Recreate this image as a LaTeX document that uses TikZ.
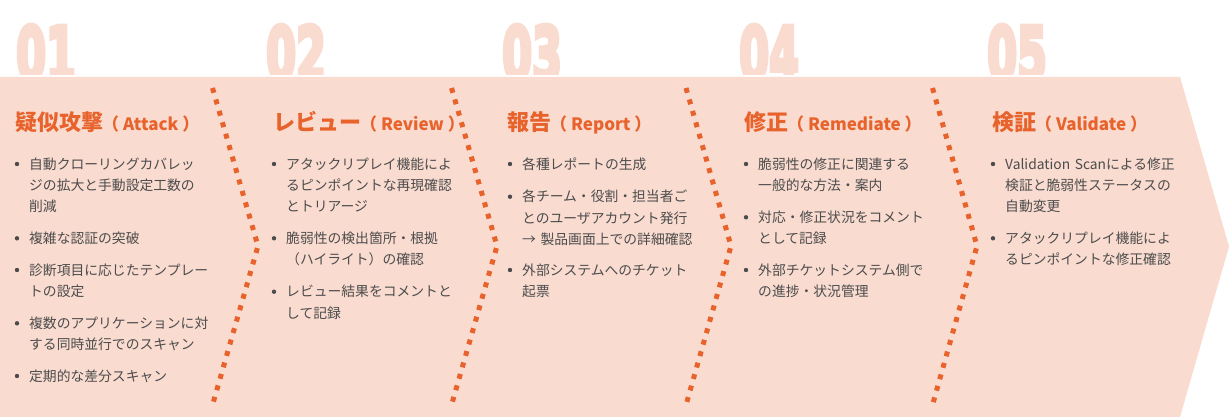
\documentclass[tikz,border=0pt]{standalone}
\usepackage{fontspec}
\usepackage{graphicx}
\newfontfamily\jp{Noto Sans CJK JP}
\newfontfamily\numf{DejaVu Sans}[FakeBold=7]
\definecolor{peach}{HTML}{F9DBD0}
\definecolor{orng}{HTML}{E8622C}
\definecolor{txtgray}{HTML}{4C4C4C}
\begin{document}
\begin{tikzpicture}[x=1pt,y=-1pt,
  numlbl/.style={anchor=north west, inner sep=0pt, text=peach, font=\numf\bfseries\fontsize{74}{74}\selectfont},
  ttl/.style={anchor=base west, inner sep=0pt, text=orng, font=\jp\bfseries},
  item/.style={anchor=base west, inner sep=0pt, text width=230pt, align=left, text=txtgray, font=\jp\fontsize{13.8}{21.3}\selectfont},
  bul/.style={fill=txtgray},
  dotline/.style={draw=orng, line width=5pt, dash pattern=on 5pt off 6.9pt}]
\useasboundingbox (0,0) rectangle (1229,417);
% big numbers
\begin{scope}
\clip (0,0) rectangle (1229,74.8);
\node[numlbl] (n1) at (16,25) {\scalebox{0.58}[1]{01}};
\node[numlbl] (n2) at (266,25) {\scalebox{0.58}[1]{02}};
\node[numlbl] (n3) at (502,25) {\scalebox{0.58}[1]{03}};
\node[numlbl] (n4) at (739,25) {\scalebox{0.58}[1]{04}};
\node[numlbl] (n5) at (987,25) {\scalebox{0.58}[1]{05}};
\end{scope}
% band
\fill[peach] (0,76.8) -- (1180,76.8) -- (1229,246.5) -- (1180,417) -- (0,417) -- cycle;
% separators
\foreach \i/\xa/\xb in {1/212.5/258, 2/451.5/497, 3/686/731, 4/932.5/977}{
  \coordinate (s\i t) at (\xa,88);
  \coordinate (s\i m) at (\xb,246);
  \coordinate (s\i b) at (\xa,405);
  \draw[dotline] (s\i t) -- (s\i m) -- (s\i b);
}
% titles
\node[ttl] (t1) at (15,131) {{\fontsize{22}{26}\selectfont 疑似攻撃}{\fontsize{17}{20}\selectfont \kern-1pt（ Attack ）}};
\node[ttl] (t2) at (273,131) {{\fontsize{22}{26}\selectfont レビュー}{\fontsize{17}{20}\selectfont \kern-1pt（ Review ）}};
\node[ttl] (t3) at (507,131) {{\fontsize{22}{26}\selectfont 報告}{\fontsize{17}{20}\selectfont \kern-1pt（ Report ）}};
\node[ttl] (t4) at (744,131) {{\fontsize{22}{26}\selectfont 修正}{\fontsize{17}{20}\selectfont \kern-1pt（ Remediate ）}};
\node[ttl] (t5) at (992,131) {{\fontsize{22}{26}\selectfont 検証}{\fontsize{17}{20}\selectfont \kern-1pt（ Validate ）}};
% column 1
\node[item] (a1) at (29,169.2) {自動クローリングカバレッ\\ジの拡大と手動設定工数の\\削減};
\node[item] (a2) at (29,243.5) {複雑な認証の突破};
\node[item] (a3) at (29,275.2) {診断項目に応じたテンプレー\\トの設定};
\node[item] (a4) at (29,328.5) {複数のアプリケーションに対\\する同時並行でのスキャン};
\node[item] (a5) at (29,381.2) {定期的な差分スキャン};
% column 2
\node[item] (b1) at (286,169.2) {アタックリプレイ機能によ\\るピンポイントな再現確認\\とトリアージ};
\node[item] (b2) at (286,243.5) {脆弱性の検出箇所・根拠\\（ハイライト）の確認};
\node[item] (b3) at (286,296.9) {レビュー結果をコメントと\\して記録};
% column 3
\node[item] (c1) at (522,169.2) {各種レポートの生成};
\node[item] (c2) at (522,201.9) {各チーム・役割・担当者ご\\とのユーザアカウント発行\\→ 製品画面上での詳細確認};
\node[item] (c3) at (522,275.2) {外部システムへのチケット\\起票};
% column 4
\node[item] (d1) at (758,169.2) {脆弱性の修正に関連する\\一般的な方法・案内};
\node[item] (d2) at (758,222.5) {対応・修正状況をコメント\\として記録};
\node[item] (d3) at (758,275.2) {外部チケットシステム側で\\の進捗・状況管理};
% column 5
\node[item] (e1) at (1005,169.2) {Validation Scanによる修正\\検証と脆弱性ステータスの\\自動変更};
\node[item] (e2) at (1005,243.5) {アタックリプレイ機能によ\\るピンポイントな修正確認};
% bullets
\foreach \n in {a1,a2,a3,a4,a5,b1,b2,b3,c1,c2,c3,d1,d2,d3,e1,e2}{
  \fill[bul] (\n.base west) ++(-12,-5.2) circle (2.2);
}
\end{tikzpicture}
\end{document}
